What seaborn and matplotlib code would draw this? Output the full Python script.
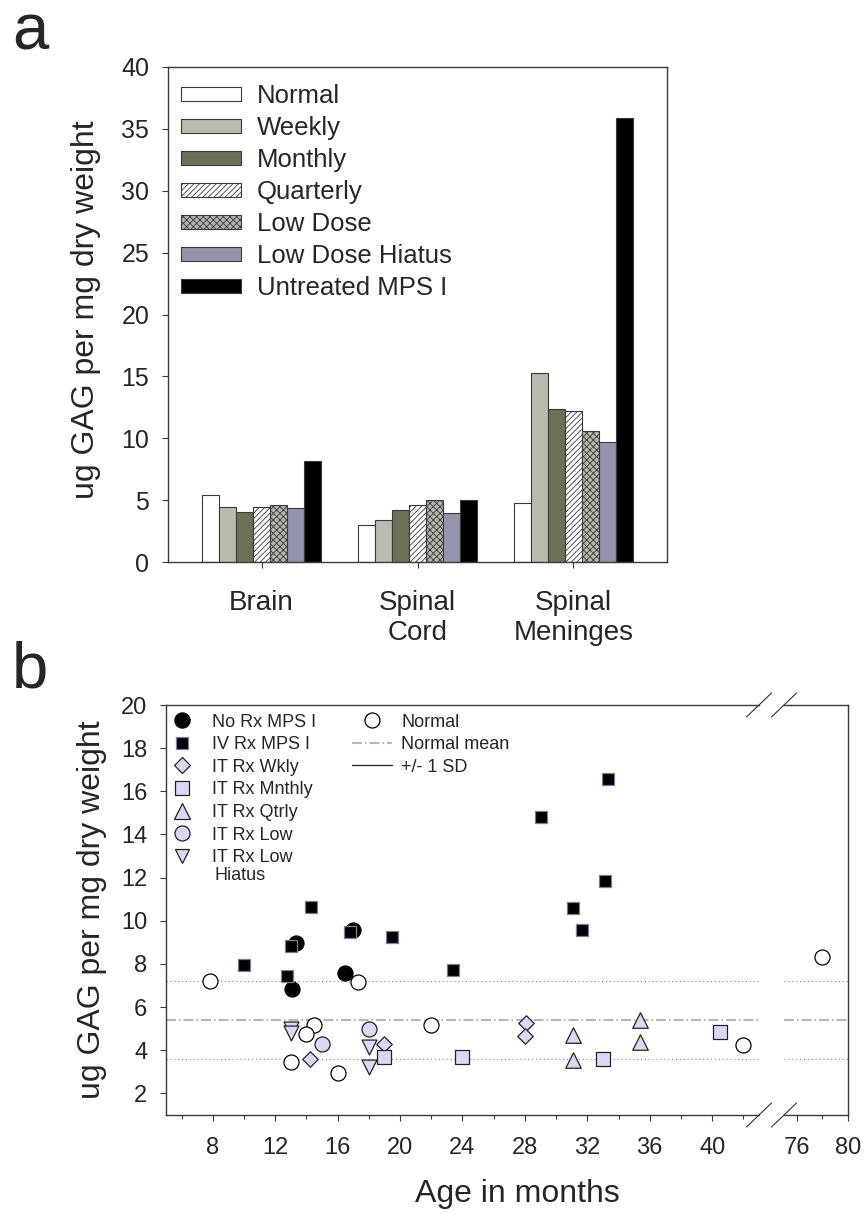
import numpy as np
import pandas as pd
import matplotlib
matplotlib.use("Agg")
import matplotlib.pyplot as plt
import seaborn as sns
from matplotlib.lines import Line2D
from matplotlib.patches import Patch

# ---------------- data: panel a ----------------
tissues = ["Brain", "Spinal\nCord", "Spinal\nMeninges"]
groups = ["Normal", "Weekly", "Monthly", "Quarterly", "Low Dose",
          "Low Dose Hiatus", "Untreated MPS I"]
normal = [5.38, 3.01, 4.76]
weekly = [4.44, 3.41, 15.27]
monthly = [4.03, 4.17, 12.37]
quarterly = [4.44, 4.57, 12.18]
low_dose = [4.62, 5.03, 10.59]
low_dose_hiatus = [4.35, 3.95, 9.73]
untreated = [8.20, 5.03, 35.89]

# ---------------- data: panel b ----------------
norm_age = [7.8, 17.3, 14.5, 14.0, 13.0, 16.0, 22.0, 42.0, 78.0]
norm_gag = [7.23, 7.17, 5.19, 4.76, 3.45, 2.93, 5.15, 4.24, 8.33]
norx_age = [13.3, 13.05, 17.0, 16.5]
norx_gag = [8.97, 6.86, 9.59, 7.59]
iv_age = [10.0, 12.75, 13.0, 14.3, 16.8, 19.5, 23.4, 29.0, 31.05, 31.65, 33.1, 33.3]
iv_gag = [7.97, 7.43, 8.82, 10.63, 9.48, 9.25, 7.70, 14.81, 10.60, 9.59, 11.86, 16.58]
wk_age = [14.2, 19.0, 28.1, 28.0]
wk_gag = [3.60, 4.27, 5.27, 4.65]
mn_age = [19.0, 24.0, 33.0, 40.5]
mn_gag = [3.69, 3.67, 3.60, 4.85]
qt_age = [31.05, 31.05, 35.4, 35.4]
qt_gag = [4.69, 3.57, 5.38, 4.39]
low_age = [15.0, 18.0]
low_gag = [4.31, 5.00]
hi_age = [13.0, 13.0, 18.0, 18.0]
hi_gag = [5.00, 4.78, 4.15, 3.23]
normal_mean = 5.4
normal_sd = 1.8

# ---------------- style ----------------
sns.set_style("ticks")
plt.rcParams["font.family"] = ["Liberation Sans", "DejaVu Sans"]
plt.rcParams["hatch.linewidth"] = 0.6
SPINE = "#3a3a3a"
LAV = "#d9d9f6"

W, H = 866, 1214
fig = plt.figure(figsize=(W / 100, H / 100), dpi=100)


def rect(l, t, r, b):
    return [l / W, 1 - b / H, (r - l) / W, (b - t) / H]


# ================= panel a =================
axa = fig.add_axes(rect(168, 67, 667, 562))
values = [normal, weekly, monthly, quarterly, low_dose, low_dose_hiatus, untreated]
rows = []
for g, vals in zip(groups, values):
    for t, v in zip(tissues, vals):
        rows.append({"tissue": t, "group": g, "gag": v})
dfa = pd.DataFrame(rows)

bar_colors = ["#ffffff", "#b9bbae", "#6d6f57", "#ffffff", "#b4b4aa", "#9495ad", "#000000"]
hatches = ["", "", "", "//////", "xxxxx", "", ""]

sns.barplot(data=dfa, x="tissue", y="gag", hue="group", order=tissues,
            hue_order=groups, palette=bar_colors, saturation=1, width=0.76,
            edgecolor=SPINE, linewidth=0.8, errorbar=None, legend=False, ax=axa)
for cont, h in zip(axa.containers, hatches):
    for bar in cont:
        bar.set_hatch(h)

handles = [Patch(facecolor=c, edgecolor=SPINE, hatch=h, linewidth=0.8)
           for c, h in zip(bar_colors, hatches)]
axa.legend(handles, groups, loc="upper left", bbox_to_anchor=(0.026, 0.965),
           frameon=False, fontsize=18.5, handlelength=2.33, handleheight=0.47,
           handletextpad=0.62, labelspacing=0.31, borderpad=0, borderaxespad=0)

axa.set_xlim(-0.6, 2.6)
axa.set_ylim(0, 40)
axa.set_yticks(np.arange(0, 41, 5))
axa.set_xlabel("")
axa.set_ylabel("ug GAG per mg dry weight", fontsize=23)
axa.yaxis.set_label_coords(-0.134, 0.51)
axa.tick_params(axis="y", direction="out", length=4.5, width=0.8, labelsize=18,
                pad=9, color=SPINE)
axa.tick_params(axis="x", direction="out", length=4.5, width=0.8, labelsize=20,
                pad=16, color=SPINE)
for s in axa.spines.values():
    s.set_visible(True)
    s.set_color(SPINE)
    s.set_linewidth(1.0)

# ================= panel b =================
ax1 = fig.add_axes(rect(166, 705, 759, 1115))
ax2 = fig.add_axes(rect(784, 705, 848, 1115), sharey=ax1)

series = [
    (norx_age, norx_gag, "o", 117, "black", "black"),
    (iv_age, iv_gag, "s", 85, "black", "#7c7c9c"),
    (norm_age, norm_gag, "o", 117, "white", "black"),
    (wk_age, wk_gag, "D", 62, LAV, "#222222"),
    (mn_age, mn_gag, "s", 95, LAV, "#222222"),
    (qt_age, qt_gag, "^", 125, LAV, "#222222"),
    (low_age, low_gag, "o", 117, LAV, "#222222"),
    (hi_age, hi_gag, "v", 115, LAV, "#222222"),
]

for ax in (ax1, ax2):
    ax.axhline(normal_mean, color="#b8b8b8", lw=1.5, ls=(0, (4.8, 1.4, 0.8, 1.4)), zorder=1)
    ax.axhline(normal_mean + normal_sd, color="#888888", lw=0.8, ls=(0, (1, 2.5)), zorder=1)
    ax.axhline(normal_mean - normal_sd, color="#888888", lw=0.8, ls=(0, (1, 2.5)), zorder=1)
    for i, (xa, ya, m, s, fc, ec) in enumerate(series):
        sns.scatterplot(x=xa, y=ya, marker=m, s=s, color=fc, edgecolor=ec,
                        linewidth=0.9, legend=False, ax=ax, zorder=3 + i)

ax1.set_xlim(5, 43)
ax2.set_xlim(75, 80)
ax1.set_ylim(1, 20)
ax1.set_yticks(np.arange(2, 21, 2))
ax1.set_xticks(np.arange(8, 41, 4))
ax1.set_xticks(np.arange(6, 43, 2), minor=True)
ax2.set_xticks([76, 80])
ax2.set_xticks([78], minor=True)

for ax in (ax1, ax2):
    ax.tick_params(axis="both", which="major", direction="out", length=4.5,
                   width=0.8, labelsize=17, color=SPINE)
    ax.tick_params(axis="x", which="major", pad=11)
    ax.tick_params(axis="y", which="major", pad=9)
    ax.tick_params(axis="x", which="minor", direction="out", length=2.8,
                   width=0.8, color=SPINE)
    for s in ax.spines.values():
        s.set_visible(True)
        s.set_color(SPINE)
        s.set_linewidth(1.0)
    ax.set_xlabel("")
ax1.spines["right"].set_visible(False)
ax2.spines["left"].set_visible(False)
ax2.tick_params(axis="y", which="both", left=False, labelleft=False)

ax1.set_ylabel("ug GAG per mg dry weight", fontsize=23)
ax1.yaxis.set_label_coords(-0.1, 0.5)

# axis break marks
def slash(ax, xa, ya, dx_px, dy_px=12):
    bb = ax.get_position()
    dx = dx_px / (bb.width * W)
    dy = dy_px / (bb.height * H)
    ax.plot([xa - dx, xa + dx], [ya - dy, ya + dy], transform=ax.transAxes,
            color="#333333", lw=0.8, clip_on=False, zorder=10)

for yy in (0, 1):
    slash(ax1, 1, yy, 12.5)
    slash(ax2, 0, yy, 12.5)

# legends
leg_left = [
    Line2D([], [], ls="none", marker="o", ms=10.8, mfc="black", mec="black"),
    Line2D([], [], ls="none", marker="s", ms=9.2, mfc="black", mec="#7c7c9c", mew=0.9),
    Line2D([], [], ls="none", marker="D", ms=7.9, mfc=LAV, mec="#222222", mew=0.9),
    Line2D([], [], ls="none", marker="s", ms=9.7, mfc=LAV, mec="#222222", mew=0.9),
    Line2D([], [], ls="none", marker="^", ms=11.2, mfc=LAV, mec="#222222", mew=0.9),
    Line2D([], [], ls="none", marker="o", ms=10.8, mfc=LAV, mec="#222222", mew=0.9),
    Line2D([], [], ls="none", marker="v", ms=10.7, mfc=LAV, mec="#222222", mew=0.9),
]
left_labels = ["No Rx MPS I", "IV Rx MPS I", "IT Rx Wkly", "IT Rx Mnthly",
               "IT Rx Qtrly", "IT Rx Low", "IT Rx Low"]
lg1 = ax1.legend(leg_left, left_labels, loc="upper left",
                 bbox_to_anchor=(0.0088, 0.979), frameon=False, fontsize=13,
                 handlelength=1.2, handletextpad=1.07, labelspacing=0.31,
                 borderpad=0, borderaxespad=0)
ax1.add_artist(lg1)
ax1.text(0.081, 0.585, "Hiatus", transform=ax1.transAxes, fontsize=13,
         va="center", ha="left")

leg_right = [
    Line2D([], [], ls="none", marker="o", ms=10.8, mfc="white", mec="black", mew=0.9),
    Line2D([], [], color="#b8b8b8", lw=1.5, ls=(0, (4.8, 1.4, 0.8, 1.4))),
    Line2D([], [], color="#222222", lw=0.9),
]
right_labels = ["Normal", "Normal mean", "+/- 1 SD"]
ax1.legend(leg_right, right_labels, loc="upper left",
           bbox_to_anchor=(0.3137, 0.979), frameon=False, fontsize=13,
           handlelength=2.22, handletextpad=0.5, labelspacing=0.31,
           borderpad=0, borderaxespad=0)

fig.text(0.597, 1 - 1194 / H, "Age in months", fontsize=23, ha="center", va="center")

# panel letters
fig.text(12 / W, 1 - 49 / H, "a", fontsize=47, ha="left", va="baseline")
fig.text(12 / W, 1 - 688 / H, "b", fontsize=47, ha="left", va="baseline")

fig.savefig("out.png", dpi=100)
